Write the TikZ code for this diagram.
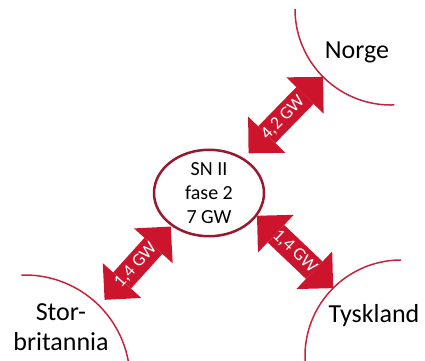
\documentclass[tikz,border=0pt]{standalone}
\usepackage{fontspec}
\setmainfont{Carlito}
\usetikzlibrary{arrows.meta,shapes.geometric}
\definecolor{flowred}{RGB}{205,20,45}
\definecolor{rimred}{RGB}{200,35,60}
\definecolor{hubred}{RGB}{150,25,45}
\begin{document}
\begin{tikzpicture}[x=1pt,y=-1pt,
    hub/.style={ellipse,draw=hubred,line width=2.5pt,minimum width=110pt,minimum height=80pt,
      inner sep=0pt,outer sep=0pt,align=center,font=\fontsize{20}{24}\selectfont},
    land/.style={circle,inner sep=0pt,outer sep=0pt},
    rim/.style={draw=rimred,line width=1.5pt},
    landname/.style={align=center,font=\fontsize{26}{30}\selectfont},
    flow/.style={draw=flowred,line width=24pt,
      {Triangle[length=26pt,width=52pt,line width=0pt]}-{Triangle[length=26pt,width=52pt,line width=0pt]}},
    flowtext/.style={text=white,font=\fontsize{18}{18}\selectfont,midway,sloped}]
  \useasboundingbox (0,0) rectangle (425,360);
  \draw
    (209,193) node[hub] (sn) {SN II\\fase 2\\7 GW}
    (391,9) node[land,minimum size=192pt] (norge) {}
    (401,356) node[land,minimum size=192pt] (tyskland) {}
    (25,380) node[land,minimum size=210pt] (stor) {};
  \draw[rim] (norge.180) arc[start angle=180,end angle=272,radius=96pt];
  \draw[rim] (tyskland.90) arc[start angle=90,end angle=185,radius=96pt];
  \draw[rim] (stor.92) arc[start angle=92,end angle=-5,radius=105pt];
  \node[landname] (norgetxt) at (357,52) {Norge};
  \node[landname] (tysktxt) at (374,316) {Tyskland};
  \node[landname] (stortxt) at (61,327) {Stor-\\britannia};
  \begin{scope}
    \draw[flow,shorten <=8pt] (sn.45) -- (norge.225) node[flowtext] (n42) {4,2 GW};
    \draw[flow,shorten <=1pt] (sn.-25) -- (tyskland.135) node[flowtext] (t14) {1,4 GW};
    \draw[flow,shorten <=2pt,shorten >=8pt] (sn.221) -- (stor.45) node[flowtext] (s14) {1,4 GW};
  \end{scope}
\end{tikzpicture}
\end{document}
